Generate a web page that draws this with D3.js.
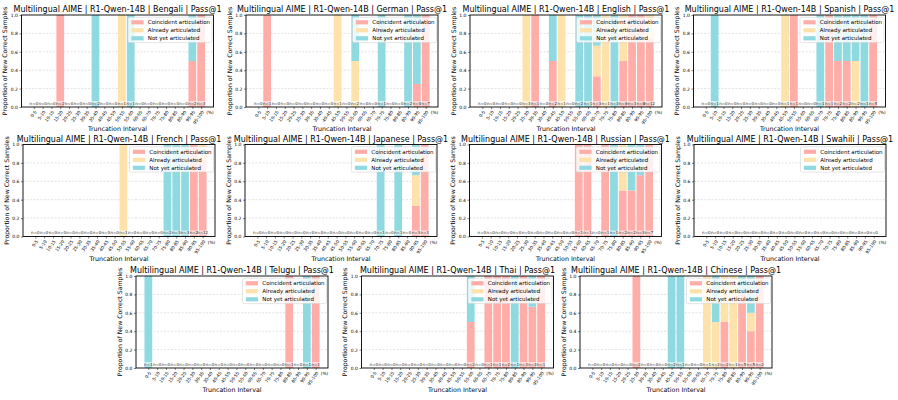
<!DOCTYPE html>
<html><head><meta charset="utf-8">
<script src="https://cdn.jsdelivr.net/npm/d3@7"></script>
<style>body{margin:0;background:#fff}svg{display:block;font-family:"DejaVu Sans",sans-serif}</style>
</head><body><svg id="c" width="898" height="400"></svg>
<script>
// ---------- data ----------
const intervals = ["0-5","5-10","10-15","15-20","20-25","25-30","30-35","35-40","40-45","45-50",
  "50-55","55-60","60-65","65-70","70-75","75-80","80-85","85-90","90-95","95-100"];
const categories = ["Coincident articulation","Already articulated","Not yet articulated"];
const yTicks = [0.0,0.2,0.4,0.6,0.8,1.0];
const languages = ["Bengali","German","English","Spanish","French","Japanese","Russian","Swahili","Telugu","Thai","Chinese"];

// counts per interval (coincident / already / not yet); n = sum
const bengaliCoincident = [0,0,0,2,0,0,0,0,0,0,0,0,0,0,0,0,0,0,1,3];
const bengaliAlready    = [0,0,0,0,0,0,0,0,0,0,1,0,0,0,0,0,0,0,0,0];
const bengaliNotYet     = [0,0,0,0,0,0,0,2,0,0,0,1,0,0,0,0,0,0,1,0];

const germanCoincident  = [0,1,0,0,0,0,0,0,0,0,0,0,0,0,0,0,0,0,1,7];
const germanAlready     = [0,0,0,0,0,0,0,0,0,1,0,1,0,0,0,0,0,0,0,0];
const germanNotYet      = [0,0,0,0,0,0,0,0,0,0,0,1,0,0,1,0,0,2,3,0];

const englishCoincident = [0,0,0,0,0,0,1,0,1,0,0,0,0,1,0,0,3,3,8,9];
const englishAlready    = [0,0,0,0,0,3,0,0,0,1,0,0,0,1,1,0,3,0,0,3];
const englishNotYet     = [0,0,0,0,0,0,0,0,1,0,0,2,1,1,0,3,0,0,0,0];

const spanishCoincident = [0,0,0,0,0,0,0,0,0,0,1,0,0,0,1,1,1,0,0,5];
const spanishAlready    = [0,0,0,0,0,0,0,0,0,1,0,0,0,0,0,0,0,1,0,0];
const spanishNotYet     = [0,1,0,0,0,0,0,0,0,0,0,0,0,1,0,1,1,1,1,0];

const frenchCoincident  = [0,0,0,0,0,0,0,0,0,0,0,0,0,0,0,0,0,0,2,10];
const frenchAlready     = [0,0,0,0,0,0,0,0,0,0,1,0,0,0,0,0,0,0,0,2];
const frenchNotYet      = [0,0,0,0,0,0,0,0,0,0,0,0,0,0,0,2,3,3,0,0];

const japaneseCoincident= [0,0,0,0,0,0,0,0,0,0,0,0,0,0,0,0,0,0,1,3];
const japaneseAlready   = [0,0,0,0,0,0,0,0,0,0,0,0,0,0,0,0,0,0,1,0];
const japaneseNotYet    = [0,0,0,0,0,0,0,0,0,0,0,0,0,0,1,0,1,0,1,0];

const russianCoincident = [0,0,0,0,0,0,0,0,0,0,0,1,1,0,1,0,1,1,2,7];
const russianAlready    = [0,0,0,0,0,0,0,0,0,0,0,0,0,0,0,0,1,0,0,0];
const russianNotYet     = [0,0,0,0,0,0,0,0,0,0,0,0,0,0,0,1,0,1,1,0];

const swahiliCoincident = [0,0,0,0,0,0,0,0,0,0,0,0,0,0,0,0,0,0,0,0];
const swahiliAlready    = [0,0,0,0,0,0,0,0,0,0,0,0,0,0,0,0,0,0,0,0];
const swahiliNotYet     = [0,0,0,0,0,0,0,0,0,0,0,0,0,0,0,0,0,0,0,0];

const teluguCoincident  = [0,0,0,0,0,0,0,0,0,0,0,0,0,0,0,0,1,0,0,1];
const teluguAlready     = [0,0,0,0,0,0,0,0,0,0,0,0,0,0,0,0,0,0,0,0];
const teluguNotYet      = [1,0,0,0,0,0,0,0,0,0,0,0,0,0,0,0,0,0,1,0];

const thaiCoincident    = [0,0,0,0,0,0,0,0,0,0,0,1,0,1,1,2,0,3,2,1];
const thaiAlready       = [0,0,0,0,0,0,0,0,0,0,0,0,0,0,0,0,0,0,0,0];
const thaiNotYet        = [0,0,0,0,0,0,0,0,0,0,0,1,0,0,0,0,1,0,1,0];

const chineseCoincident = [0,0,0,0,0,2,0,0,0,0,0,0,0,0,0,1,0,4,2,2];
const chineseAlready    = [0,0,0,0,0,0,0,0,0,0,0,0,0,1,1,1,1,0,1,0];
const chineseNotYet     = [0,0,0,0,0,0,0,0,0,2,1,0,0,0,1,0,0,1,2,0];

const seriesByLang = {
  Bengali:[bengaliCoincident,bengaliAlready,bengaliNotYet],
  German:[germanCoincident,germanAlready,germanNotYet],
  English:[englishCoincident,englishAlready,englishNotYet],
  Spanish:[spanishCoincident,spanishAlready,spanishNotYet],
  French:[frenchCoincident,frenchAlready,frenchNotYet],
  Japanese:[japaneseCoincident,japaneseAlready,japaneseNotYet],
  Russian:[russianCoincident,russianAlready,russianNotYet],
  Swahili:[swahiliCoincident,swahiliAlready,swahiliNotYet],
  Telugu:[teluguCoincident,teluguAlready,teluguNotYet],
  Thai:[thaiCoincident,thaiAlready,thaiNotYet],
  Chinese:[chineseCoincident,chineseAlready,chineseNotYet]
};

// ---------- layout / style ----------
const colors = ["#FFADA9","#FDE2AC","#8FDAE1"];
const centers = [117.5,342,566,789.5, 119,341,565.5,790, 232,457.5,676];
const tops    = [15,15,15,15, 144.5,144.5,144.5,144.5, 276,276,276];
const W = 192, H = 92;

const svg = d3.select("#c");
svg.append("rect").attr("width",898).attr("height",400).attr("fill","#fff");

languages.forEach((lang,pi)=>{
  const L = centers[pi]-W/2, R = centers[pi]+W/2, T = tops[pi], B = T+H;
  const x = d3.scaleLinear().domain([-1.4,20.4]).range([L,R]);
  const y = d3.scaleLinear().domain([0,1]).range([B,T]);
  const g = svg.append("g");
  const [c,a,nY] = seriesByLang[lang];
  const n = intervals.map((_,i)=>c[i]+a[i]+nY[i]);

  // grid
  g.append("g").selectAll("line").data(yTicks.filter(v=>v>0&&v<1)).join("line")
    .attr("x1",L).attr("x2",R).attr("y1",d=>y(d)).attr("y2",d=>y(d))
    .attr("stroke","#cfcfcf").attr("stroke-width",0.6).attr("stroke-dasharray","2,1.5");

  // stacked bars
  const stackData = intervals.map((iv,i)=>({i, c: n[i]?c[i]/n[i]:0, a: n[i]?a[i]/n[i]:0, y: n[i]?nY[i]/n[i]:0}));
  const stacked = d3.stack().keys(["c","a","y"])(stackData);
  const bw = 0.88;
  stacked.forEach((layer,k)=>{
    g.append("g").selectAll("rect").data(layer.filter(d=>d[1]-d[0]>0)).join("rect")
      .attr("x",d=>x(d.data.i-bw/2)).attr("width",x(bw)-x(0))
      .attr("y",d=>y(d[1])).attr("height",d=>y(d[0])-y(d[1]))
      .attr("fill",colors[k]);
  });

  // n labels
  const nl = g.append("g");
  nl.selectAll("rect").data(intervals).join("rect")
    .attr("x",(d,i)=>x(i)-3.9).attr("width",7.8).attr("y",B-6).attr("height",4.6)
    .attr("fill","#fff").attr("fill-opacity",0.55);
  nl.selectAll("text").data(intervals).join("text")
    .attr("x",(d,i)=>x(i)).attr("y",B-2.2).attr("text-anchor","middle")
    .attr("font-size",4).attr("fill","#222").text((d,i)=>"n="+n[i]);

  // axes
  const ya = d3.axisLeft(y).tickValues(yTicks).tickFormat(d3.format(".1f")).tickSize(2).tickPadding(1.5);
  const yg = g.append("g").attr("transform",`translate(${L},0)`).call(ya);
  yg.select(".domain").remove();
  yg.selectAll("text").attr("font-size",4.5).attr("fill","#000").attr("font-family","DejaVu Sans");
  yg.selectAll("line").attr("stroke","#000").attr("stroke-width",0.5);

  const xa = d3.axisBottom(x).tickValues(d3.range(20)).tickFormat(i=>intervals[i]).tickSize(2);
  const xg = g.append("g").attr("transform",`translate(0,${B})`).call(xa);
  xg.select(".domain").remove();
  xg.selectAll("line").attr("stroke","#000").attr("stroke-width",0.5);
  xg.selectAll("text").attr("font-size",4.4).attr("fill","#000").attr("font-family","DejaVu Sans")
    .attr("y",null).attr("dy","0.35em").attr("text-anchor","end")
    .attr("transform","translate(1.2,4) rotate(-55)");
  g.append("text").attr("x",x(20)).attr("y",B+7.2).attr("text-anchor","middle")
    .attr("font-size",4.4).attr("fill","#000").text("(%)");

  // frame
  g.append("rect").attr("x",L).attr("y",T).attr("width",W).attr("height",H)
    .attr("fill","none").attr("stroke","#000").attr("stroke-width",0.9);

  // legend
  const lw = 84, lh = 25.4, lx = R-1.5-lw, ly = T+2.2;
  const lg = g.append("g");
  lg.append("rect").attr("x",lx).attr("y",ly).attr("width",lw).attr("height",lh).attr("rx",1.5)
    .attr("fill","#fff").attr("fill-opacity",0.8).attr("stroke","#cccccc").attr("stroke-width",0.5);
  categories.forEach((cat,k)=>{
    const cy = T+7.3+k*8;
    lg.append("rect").attr("x",lx+3.4).attr("y",cy-2.1).attr("width",12.2).attr("height",4.2).attr("fill",colors[k]);
    lg.append("text").attr("x",lx+19.8).attr("y",cy).attr("dy","0.35em").attr("font-size",5.5).attr("fill","#000").text(cat);
  });

  // labels
  g.append("text").attr("x",(L+R)/2).attr("y",T-2.6).attr("text-anchor","middle")
    .attr("font-size",8).attr("fill","#000").text(`Multilingual AIME | R1-Qwen-14B | ${lang} | Pass@1`);
  g.append("text").attr("x",(L+R)/2).attr("y",B+24).attr("text-anchor","middle")
    .attr("font-size",6.3).attr("fill","#000").text("Truncation Interval");
  g.append("text").attr("transform",`translate(${L-14.5},${(T+B)/2}) rotate(-90)`).attr("text-anchor","middle")
    .attr("font-size",6.2).attr("fill","#000").text("Proportion of New Correct Samples");
});
</script></body></html>
